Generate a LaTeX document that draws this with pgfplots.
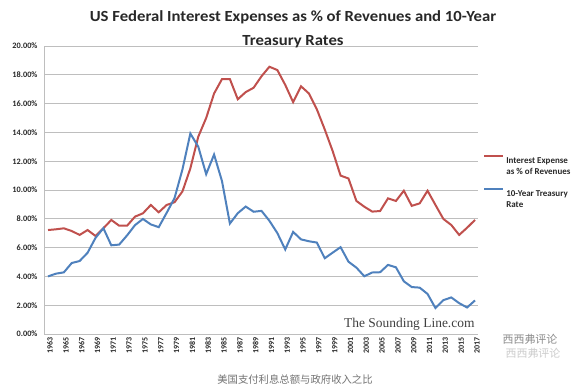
\documentclass[border=0pt]{standalone}
\usepackage{pgfplots}
\pgfplotsset{compat=1.18}
\usepackage{fontspec}
\setmainfont{Carlito}
\newfontfamily\cjk{Noto Sans CJK SC}
\newfontfamily\wm{Liberation Serif}
\definecolor{redl}{RGB}{192,80,77}
\definecolor{bluel}{RGB}{79,129,189}
\definecolor{gridc}{RGB}{190,190,190}
\definecolor{txt}{RGB}{40,40,40}
\pgfplotstableread{
year ie ty
1963 7.22 4.00
1964 7.27 4.19
1965 7.34 4.28
1966 7.15 4.93
1967 6.88 5.07
1968 7.22 5.64
1969 6.81 6.67
1970 7.34 7.35
1971 7.92 6.16
1972 7.52 6.21
1973 7.52 6.85
1974 8.15 7.56
1975 8.38 7.99
1976 8.96 7.61
1977 8.45 7.42
1978 8.96 8.41
1979 9.15 9.44
1980 9.90 11.43
1981 11.50 13.92
1982 13.70 13.01
1983 15.00 11.10
1984 16.70 12.46
1985 17.70 10.62
1986 17.70 7.67
1987 16.30 8.39
1988 16.80 8.85
1989 17.10 8.49
1990 17.90 8.55
1991 18.56 7.86
1992 18.33 7.01
1993 17.30 5.87
1994 16.10 7.09
1995 17.20 6.57
1996 16.70 6.44
1997 15.60 6.35
1998 14.20 5.26
1999 12.70 5.65
2000 11.00 6.03
2001 10.80 5.02
2002 9.24 4.61
2003 8.84 4.01
2004 8.50 4.27
2005 8.54 4.29
2006 9.42 4.80
2007 9.24 4.63
2008 9.95 3.66
2009 8.90 3.26
2010 9.07 3.22
2011 9.95 2.78
2012 8.96 1.80
2013 7.99 2.35
2014 7.57 2.54
2015 6.88 2.14
2016 7.38 1.84
2017 7.92 2.33
}\datatable
\begin{document}
\begin{tikzpicture}
\path[use as bounding box, fill=white] (0,0) rectangle (576bp,390bp);
\begin{axis}[
  at={(44bp,56bp)}, anchor=south west,
  scale only axis, width=434bp, height=288bp,
  xmin=1962.49, xmax=2017.38, ymin=0, ymax=20,
  axis x line*=bottom, axis y line*=left,
  axis line style={draw=gridc, line width=0.8pt, -},
  ymajorgrids, grid style={draw=gridc, line width=0.8pt},
  major tick length=0pt,
  ytick={0,2,...,20},
  yticklabels={0.00\%,2.00\%,4.00\%,6.00\%,8.00\%,10.00\%,12.00\%,14.00\%,16.00\%,18.00\%,20.00\%},
  xtick={1963,1965,...,2017},
  xticklabels={1963,1965,1967,1969,1971,1973,1975,1977,1979,1981,1983,1985,1987,1989,1991,1993,1995,1997,1999,2001,2003,2005,2007,2009,2011,2013,2015,2017},
  yticklabel style={font=\bfseries\fontsize{8.3}{9}\selectfont, text=txt, xshift=-3bp},
  xticklabel style={font=\bfseries\fontsize{8}{9}\selectfont, text=txt, rotate=90, anchor=east, yshift=-2bp},
  legend style={draw=none, fill=none, at={(1.005,0.63)}, anchor=north west,
    font=\bfseries\fontsize{9}{11}\selectfont, text=txt,
    cells={anchor=west, align=left}, row sep=10bp},
  legend image code/.code={\draw[#1] (0bp,11bp) -- (19bp,11bp);},
  clip=false
]
\addplot[redl, line width=2pt] table[x=year, y=ie] {\datatable};
\addlegendentry{Interest Expense\\as \% of Revenues}
\addplot[bluel, line width=2pt] table[x=year, y=ty] {\datatable};
\addlegendentry{10-Year Treasury\\Rate}
\end{axis}
\node[font=\bfseries\fontsize{15.5}{24}\selectfont, text=txt, align=center, xscale=1.08] at (293bp,361bp)
  {US Federal Interest Expenses as \% of Revenues and 10-Year\\Treasury Rates};
\node[font=\wm\fontsize{13.5}{14}\selectfont, text=black!75, anchor=base east] at (478bp,62bp) {The Sounding Line.com};
\node[font=\cjk\fontsize{10.4}{11}\selectfont, text=black!55] at (295bp,10bp) {美国支付利息总额与政府收入之比};
\node[font=\cjk\fontsize{11}{12}\selectfont, text=black!20] at (533bp,37bp) {西西弗评论};
\node[font=\cjk\fontsize{11}{12}\selectfont, text=black!45] at (530bp,51bp) {西西弗评论};
\end{tikzpicture}
\end{document}
